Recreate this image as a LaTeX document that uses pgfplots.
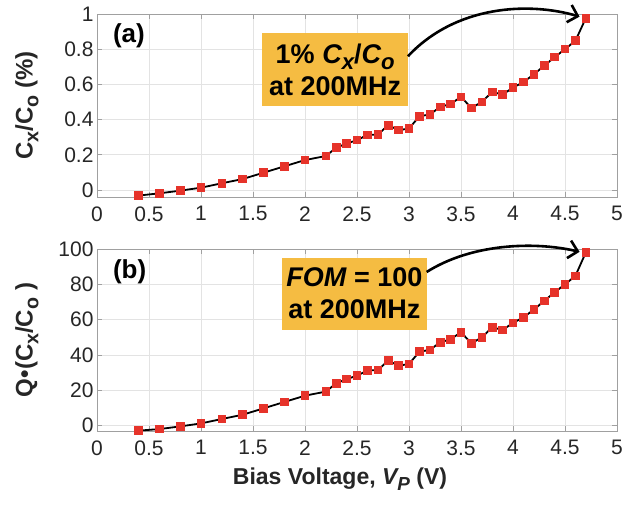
\documentclass[border=0pt]{standalone}
\usepackage{fontspec}
\setmainfont{Liberation Sans}
\usepackage{pgfplots}
\pgfplotsset{compat=1.18}
\usetikzlibrary{arrows.meta}
\definecolor{mkred}{HTML}{E6332A}
\definecolor{boxorange}{HTML}{F5BC42}
\definecolor{axgray}{HTML}{A0A0A0}
\definecolor{txtgray}{HTML}{262626}
% larger subscripts, closer to the MATLAB look
\newcommand\sbs[1]{\raisebox{-0.45ex}{\scalebox{0.82}{#1}}}

\pgfplotstableread{
v    r
0.4  -0.032
0.6  -0.019
0.8  -0.004
1.0  0.013
1.2  0.038
1.4  0.062
1.6  0.098
1.8  0.134
2.0  0.170
2.2  0.193
2.3  0.240
2.4  0.264
2.5  0.283
2.6  0.313
2.7  0.315
2.8  0.368
2.9  0.340
3.0  0.349
3.1  0.419
3.2  0.429
3.3  0.472
3.4  0.489
3.5  0.529
3.6  0.466
3.7  0.500
3.8  0.557
3.9  0.542
4.0  0.582
4.1  0.613
4.2  0.657
4.3  0.706
4.4  0.755
4.5  0.800
4.6  0.848
4.7  0.976
}\ratio

\pgfplotstableread{
v    f
0.4  -2.8
0.6  -1.9
0.8  -0.4
1.0  1.3
1.2  3.8
1.4  6.2
1.6  9.8
1.8  13.4
2.0  17.0
2.2  19.3
2.3  24.0
2.4  26.4
2.5  28.3
2.6  31.3
2.7  31.5
2.8  36.8
2.9  34.0
3.0  34.9
3.1  41.9
3.2  42.9
3.3  47.2
3.4  48.9
3.5  52.9
3.6  46.6
3.7  50.0
3.8  55.7
3.9  54.2
4.0  58.2
4.1  61.3
4.2  65.7
4.3  70.6
4.4  75.5
4.5  80.0
4.6  84.8
4.7  98.0
}\fom

\pgfplotsset{
  matlab/.style={
    scale only axis, width=520pt,
    xmin=0, xmax=5, xtick={0,0.5,...,5},
    grid=major, grid style={gray!22, line width=0.6pt},
    axis line style={axgray, line width=0.8pt},
    tick style={axgray, line width=0.8pt},
    major tick length=5pt,
    tick align=inside,
    ticklabel style={font=\fontsize{21}{25}\selectfont, text=txtgray},
    xticklabel style={yshift=-6pt},
    /pgf/number format/assume math mode=true,
    label style={font=\bfseries\fontsize{23}{27}\selectfont, text=txtgray},
    ylabel style={at={(axis description cs:-0.135,0.5)}, anchor=center,
      font=\bfseries\fontsize{24}{28}\selectfont},
    clip=false,
  },
  series/.style={black, line width=1.8pt, mark=square*, mark size=3.8pt,
    mark options={fill=mkred, draw=mkred, line width=0pt}},
}
\tikzset{
  callout/.style={fill=boxorange, inner sep=0pt, minimum width=146pt, minimum height=73pt,
    align=center, font=\bfseries\fontsize{27}{32}\selectfont},
  arr/.style={black, line width=2.6pt, -{Straight Barb[length=9pt, width=18pt, line width=2.6pt]}},
  tag/.style={anchor=west, font=\bfseries\fontsize{26}{30}\selectfont},
}

\begin{document}
\begin{tikzpicture}
  \begin{axis}[matlab,
    at={(97pt,-197pt)}, anchor=south west, height=183pt,
    ymin=-0.04, ymax=1, ytick={0,0.2,...,1},
    ylabel={C\sbs{x}/C\sbs{o} (\%)},
    yticklabel style={/pgf/number format/fixed, /pgf/number format/precision=1}
  ]
    \addplot[series] table[x=v, y=r] {\ratio};
    \node[callout] at (axis cs:2.29,0.683) {1\% \textit{C\sbs{x}}/\textit{C\sbs{o}}\\at 200MHz};
    \draw[arr] (axis cs:2.99,0.76) .. controls (axis cs:3.45,1.05) and (axis cs:4.15,1.07) .. (axis cs:4.64,0.985);
    \node[tag] at (axis cs:0.12,0.875) {(a)};
  \end{axis}

  \begin{axis}[matlab,
    at={(97pt,-431pt)}, anchor=south west, height=182pt,
    ymin=-3, ymax=100, ytick={0,20,...,100},
    xlabel={Bias Voltage, \textit{V\sbs{P}} (V)},
    xlabel style={xshift=-17pt, yshift=-6pt},
    ylabel={Q•(C\sbs{x}/C\sbs{o} )}
  ]
    \addplot[series] table[x=v, y=f] {\fom};
    \node[callout, minimum width=145pt, minimum height=72pt] at (axis cs:2.475,74.8) {\textit{FOM} = 100\\at 200MHz};
    \draw[arr] (axis cs:3.17,87) .. controls (axis cs:3.6,103) and (axis cs:4.2,104.5) .. (axis cs:4.64,98.4);
    \node[tag] at (axis cs:0.12,87.0) {(b)};
  \end{axis}

  \pgfresetboundingbox
  \path[use as bounding box] (0pt,0pt) rectangle (639pt,-504pt);
\end{tikzpicture}
\end{document}
